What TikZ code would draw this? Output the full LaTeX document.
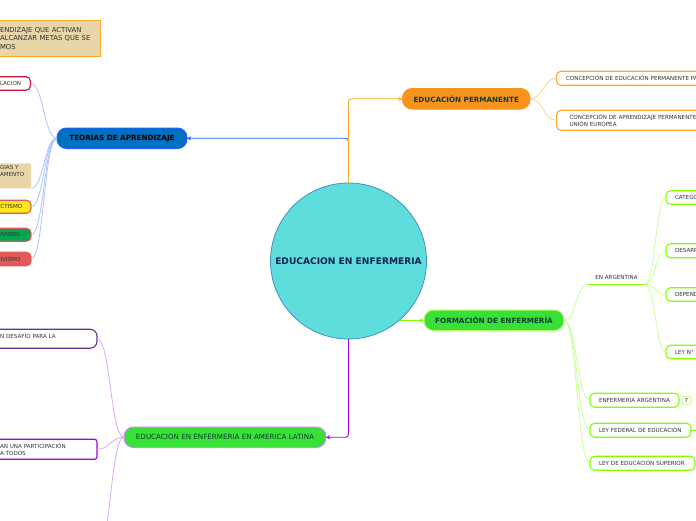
\documentclass[tikz,border=0pt]{standalone}
\usepackage{fontspec}
\setmainfont{DejaVu Sans}
\usetikzlibrary{positioning,calc}
\tikzset{every picture/.style={line width=0.75pt}}

\definecolor{rootfill}{HTML}{5FDCDC}
\definecolor{rootline}{HTML}{3A8FC0}
\definecolor{rootink}{HTML}{0A2350}
\definecolor{bluefill}{HTML}{0070C0}
\definecolor{blueline}{HTML}{2060FF}
\definecolor{bluetwig}{HTML}{A8C4FF}
\definecolor{orangefill}{HTML}{F9931F}
\definecolor{orangeline}{HTML}{FFA726}
\definecolor{orangetwig}{HTML}{FFD090}
\definecolor{greenfill}{HTML}{38E038}
\definecolor{limeline}{HTML}{80FF00}
\definecolor{limeedge}{HTML}{B4FF60}
\definecolor{limetwig}{HTML}{CCFF99}
\definecolor{violetline}{HTML}{A000F0}
\definecolor{violetedge}{HTML}{CC88FF}
\definecolor{violettwig}{HTML}{DDA8FF}
\definecolor{plumline}{HTML}{6B2C91}
\definecolor{tanfill}{HTML}{E8D5A8}
\definecolor{leafink}{HTML}{333333}
\definecolor{crimson}{HTML}{C8143C}
\definecolor{rosered}{HTML}{E05A5A}
\definecolor{sunfill}{HTML}{FFE81A}
\definecolor{leaffill}{HTML}{00A650}
\definecolor{pineink}{HTML}{0A4030}

\begin{document}
\begin{tikzpicture}[x=1pt,y=-1pt,node distance=10pt,
    every node/.style={outer sep=0pt,inner ysep=0pt},
    branch/.style={draw,rounded corners=9.5pt,minimum height=20.5pt,line width=1pt,inner xsep=2pt,font=\fontsize{7.2}{8.5}\selectfont\bfseries},
    leaf/.style={draw,rounded corners=4.5pt,fill=white,text=leafink,align=left,line width=1.1pt,inner xsep=8pt,font=\fontsize{5.6}{6.6}\selectfont},
    trunk/.style={rounded corners=3pt,-stealth,line width=0.9pt},
    twig/.style={line width=0.8pt,to path={.. controls ($(\tikztostart)!.5!(\tikztotarget|-\tikztostart)$) and ($(\tikztotarget)!.5!(\tikztotarget-|\tikztostart)$) .. (\tikztotarget)}}]
    \clip (0,0) rectangle (696,520);
    \useasboundingbox (0,0) rectangle (696,520);

    \node[circle,draw=rootline,fill=rootfill,text=rootink,minimum size=156pt,inner sep=0pt,font=\fontsize{9.1}{11}\selectfont\bfseries] (root) at (348.5,261) {EDUCACION EN ENFERMERIA};

    % main branches
    \node[branch,fill=bluefill,draw=blueline,text=black,minimum width=130pt,above left=112.5pt and 161.5pt of root.center] (teorias) {TEORÍAS DE APRENDIZAJE};
    \node[branch,fill=orangefill,draw=orangefill,text=pineink,minimum width=127.5pt,above right=152pt and 54pt of root.center] (permanente) {EDUCACIÓN PERMANENTE};
    \node[branch,fill=greenfill,draw=limeedge,text=pineink,minimum width=140pt,below right=49pt and 75.5pt of root.center] (formacion) {FORMACIÓN DE ENFERMERÍA};
    \node[branch,fill=greenfill,draw=violetedge,text=pineink,minimum width=202pt,font=\fontsize{7.15}{8}\selectfont,below left=166pt and 22.5pt of root.center] (latina) {EDUCACION EN ENFERMERIA EN AMERICA LATINA};

    % left, theories
    \node[draw=orangeline,fill=tanfill,text=leafink,align=left,line width=1pt,inner xsep=8pt,text width=92pt,minimum height=36pt,font=\fontsize{6.85}{8.3}\selectfont,above left=82pt and -43pt of teorias.west] (metas) {ENDIZAJE QUE ACTIVAN\\ALCANZAR METAS QUE SE\\MOS};
    \node[leaf,draw=crimson,text width=22.5pt,minimum height=13.5pt,above left=48pt and 26.5pt of teorias.west] (relacion) {LACION};
    \node[leaf,draw=none,fill=tanfill,rounded corners=2pt,text width=23pt,minimum height=25pt,below left=25pt and 26pt of teorias.west] (estrategias) {GIAS Y\\AMENTO\\[3pt]~};
    \node[leaf,draw=rosered,fill=sunfill,text width=22.5pt,minimum height=13pt,below=12pt of estrategias.south east,anchor=north east] (cognoscitivismo) {CTISMO};
    \node[leaf,draw=rosered,fill=leaffill,text width=22.5pt,minimum height=13pt,below=15pt of cognoscitivismo.south east,anchor=north east] (constructivismo) {IVISMO};
    \node[leaf,draw=rosered,fill=rosered,text width=22.5pt,minimum height=13.5pt,below=11pt of constructivismo.south east,anchor=north east] (conectivismo) {IVISMO};

    % left, latin america
    \node[leaf,draw=plumline,rounded corners=7pt,text width=89pt,minimum height=19pt,above left=89pt and 27pt of latina.west] (desafio) {N DESAFÍO PARA LA\\~};
    \node[leaf,draw=violetline,rounded corners=2.5pt,text width=89pt,minimum height=20pt,below left=2pt and 27pt of latina.west] (participacion) {AN UNA PARTICIPACIÓN\\A TODOS};
    \coordinate[below left=117pt and 27pt of latina.west] (latinaend);

    % right, permanent education
    \node[leaf,draw=orangeline,text width=200pt,minimum height=14pt,above right=13.5pt and 26.5pt of permanente.east,inner xsep=9.5pt] (concepcion) {CONCEPCIÓN DE EDUCACIÓN PERMANENTE PA};
    \node[leaf,draw=orangeline,text width=200pt,minimum height=20pt,below=25pt of concepcion.south west,anchor=north west,inner xsep=13pt] (union) {CONCEPCIÓN DE APRENDIZAJE PERMANENTE\\UNIÓN EUROPEA};

    % right, nursing
    \node[minimum width=57pt,minimum height=13pt,text=leafink,font=\fontsize{5.6}{6.6}\selectfont,above right=36pt and 24pt of formacion.east] (argentina) {EN ARGENTINA};
    \node[leaf,draw=limeline,text width=60pt,minimum height=13.5pt,inner xsep=9pt,above right=80pt and 21pt of argentina.south east] (categorias) {CATEGO};
    \node[leaf,draw=limeline,text width=60pt,minimum height=14pt,inner xsep=9pt,below=39.5pt of categorias.south west,anchor=north west] (desarrollo) {DESARR};
    \node[leaf,draw=limeline,text width=60pt,minimum height=13.5pt,inner xsep=9pt,below=30pt of desarrollo.south west,anchor=north west] (dependencia) {DEPEND};
    \node[leaf,draw=limeline,text width=60pt,minimum height=13.5pt,inner xsep=9pt,below=44pt of dependencia.south west,anchor=north west] (leyn) {LEY N°};
    \node[leaf,draw=limeline,text width=71pt,minimum height=14pt,inner xsep=9pt,below right=73pt and 26pt of formacion.east] (enfermeria) {ENFERMERÍA ARGENTINA};
    \node[leaf,draw=limeedge,line width=0.6pt,rounded corners=2pt,minimum width=9pt,minimum height=8pt,inner xsep=0pt,right=3pt of enfermeria] (nota) {7};
    \node[leaf,draw=limeline,text width=83pt,minimum height=14pt,inner xsep=9pt,below=16pt of enfermeria.south west,anchor=north west] (federal) {LEY FEDERAL DE EDUCACIÓN};
    \node[leaf,draw=limeline,text width=87pt,minimum height=14pt,inner xsep=9pt,below=19pt of federal.south west,anchor=north west] (superior) {LEY DE EDUCACIÓN SUPERIOR};
    \coordinate[right=5pt of federal.east] (federalend);
    \coordinate[left=24.5pt of formacion.west] (rootrim);

    % from the circle
    \draw[trunk,blueline] (root.north) |- (teorias.east);
    \draw[trunk,orangeline] (root.north) |- (permanente.west);
    \draw[trunk,violetline] (root.south) |- (latina.east);
    \draw[trunk,limeline] (rootrim) -- (formacion.west);

    % twigs
    \draw[bluetwig]
        (teorias.west) edge[twig] (relacion.east)
        (teorias.west) edge[twig] (estrategias.south east)
        (teorias.west) edge[twig] (cognoscitivismo.east)
        (teorias.west) edge[twig] (constructivismo.east)
        (teorias.west) edge[twig] (conectivismo.east)
        ;
    \draw[violettwig]
        (latina.west) edge[twig] (desafio.east)
        (latina.west) edge[twig] (participacion.east)
        (latina.west) edge[twig] (latinaend)
        ;
    \draw[orangetwig]
        (permanente.east) edge[twig] (concepcion.west)
        (permanente.east) edge[twig] (union.west)
        ;
    \draw[limetwig]
        (formacion.east) edge[twig] (argentina.south west)
        (argentina.south east) edge[twig] (categorias.west)
        (argentina.south east) edge[twig] (desarrollo.west)
        (argentina.south east) edge[twig] (dependencia.west)
        (argentina.south east) edge[twig] (leyn.west)
        (formacion.east) edge[twig] (enfermeria.west)
        (formacion.east) edge[twig] (federal.west)
        (formacion.east) edge[twig] (superior.west)
        (federal.east) edge[limeline] (federalend)
        ;
    \draw[limeline,line width=1pt] (argentina.south west) -- (argentina.south east);
\end{tikzpicture}
\end{document}
